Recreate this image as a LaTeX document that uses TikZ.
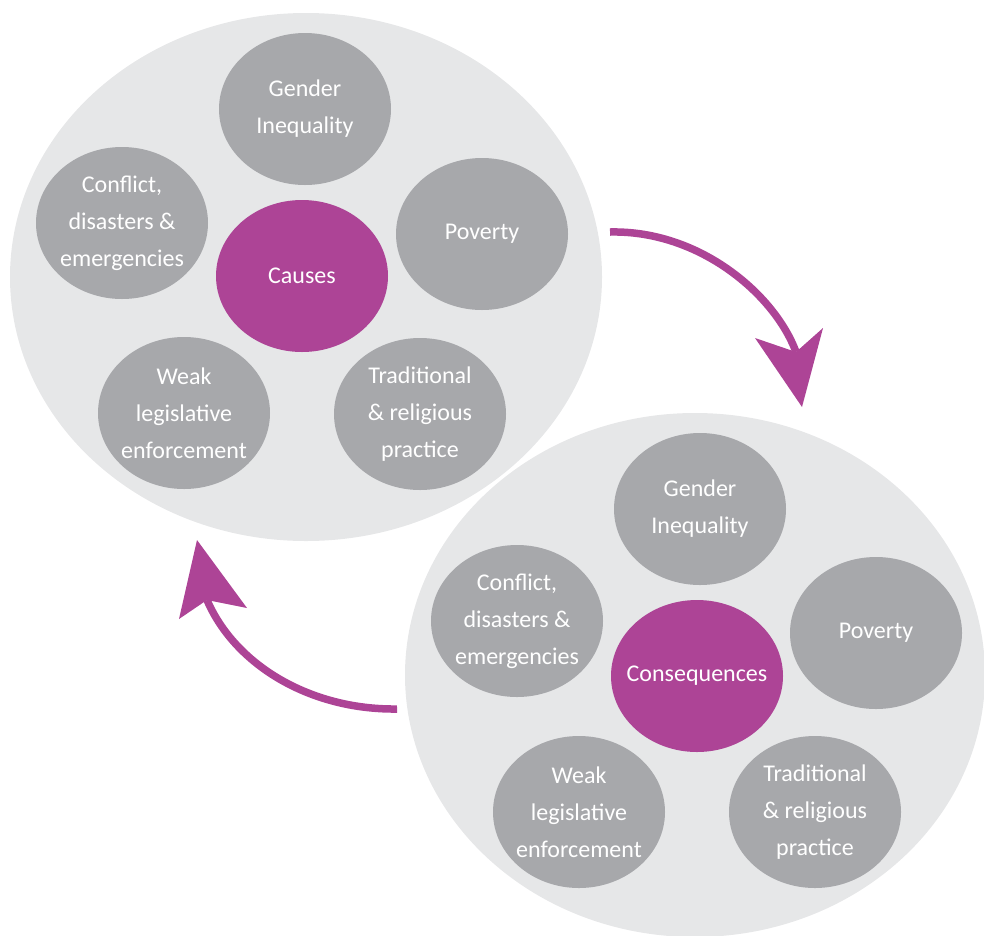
\documentclass[tikz,border=0pt]{standalone}
\usepackage{fontspec}
\setmainfont{Carlito}
\usetikzlibrary{shapes.geometric}
\definecolor{purp}{HTML}{AD4496}
\definecolor{midgray}{HTML}{A7A8AB}
\definecolor{lightgray}{HTML}{E6E7E8}
\begin{document}
\begin{tikzpicture}[x=1pt,y=-1pt,
  bigc/.style={ellipse, fill=lightgray, inner sep=0pt},
  smallc/.style={ellipse, fill=midgray, inner sep=0pt, minimum width=172pt, minimum height=152pt},
  centerc/.style={smallc, fill=purp},
  lbl/.style={text=white, align=center, inner sep=0pt, font=\fontsize{24}{37}\selectfont},
  arrowline/.style={draw=purp, line width=7.5pt},
  arrowhead/.style={fill=purp}]
\useasboundingbox (0,0) rectangle (984,935);
\clip (0,0) rectangle (984,935);
% big backgrounds
\node[bigc, minimum width=592pt, minimum height=528pt] (top) at (306,277) {};
\node[bigc, minimum width=580pt, minimum height=524pt] (bot) at (695,675) {};
% top cluster
\node[smallc] (tg) at (305,109) {};
\node[smallc] (tc) at (122,223) {};
\node[smallc] (tp) at (482,234) {};
\node[centerc] (tcause) at (302,276) {};
\node[smallc] (tw) at (184,413) {};
\node[smallc] (tt) at (420,414) {};
\node[lbl] (tgl) at (tg) {Gender\\Inequality};
\node[lbl] (tcl) at (tc) {Conflict,\\disasters \&\\emergencies};
\node[lbl] (tpl) at (tp) {Poverty};
\node[lbl] (tcausel) at (tcause) {Causes};
\node[lbl] (twl) at (tw) {Weak\\legislative\\enforcement};
\node[lbl] (ttl) at (tt) {Traditional\\\& religious\\practice};
% bottom cluster
\node[smallc] (bg) at (700,509) {};
\node[smallc] (bc) at (517,621) {};
\node[smallc] (bp) at (876,633) {};
\node[centerc] (bcons) at (697,676) {};
\node[smallc] (bw) at (579,812) {};
\node[smallc] (bt) at (815,812) {};
\node[lbl] (bgl) at (bg) {Gender\\Inequality};
\node[lbl] (bcl) at (bc) {Conflict,\\disasters \&\\emergencies};
\node[lbl] (bpl) at (bp) {Poverty};
\node[lbl] (bconsl) at (bcons) {Consequences};
\node[lbl] (bwl) at (bw) {Weak\\legislative\\enforcement};
\node[lbl] (btl) at (bt) {Traditional\\\& religious\\practice};
% arrow 1 (top -> bottom)
\coordinate (a1s) at (610,232);
\coordinate (a1n) at (796,352);
\coordinate (a1l) at (755,338);
\coordinate (a1r) at (823,328);
\coordinate (a1t) at (802,407);
\draw[arrowline] (a1s) .. controls (700,230) and (775,295) .. (a1n);
\fill[arrowhead] (a1l) -- (a1n) -- (a1r) -- (a1t) -- cycle;
% arrow 2 (bottom -> top)
\coordinate (a2s) at (397,709);
\coordinate (a2n) at (207,600);
\coordinate (a2l) at (179,619);
\coordinate (a2r) at (247,608);
\coordinate (a2t) at (197,540);
\draw[arrowline] (a2s) .. controls (310,710) and (235,665) .. (a2n);
\fill[arrowhead] (a2l) -- (a2t) -- (a2r) -- (a2n) -- cycle;
\end{tikzpicture}
\end{document}
